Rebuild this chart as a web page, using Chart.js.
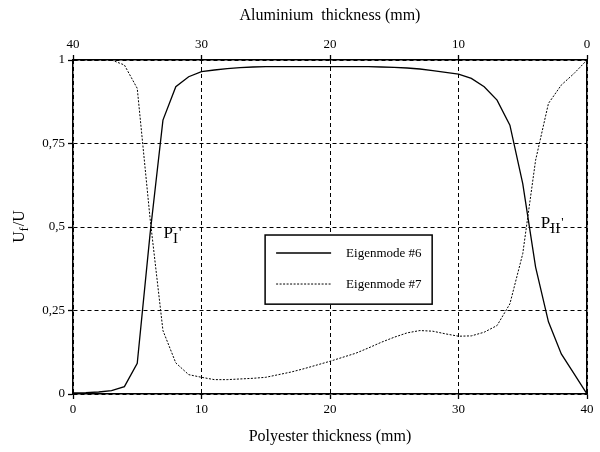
<!DOCTYPE html>
<html>
<head>
<meta charset="utf-8">
<script src="https://cdn.jsdelivr.net/npm/chart.js@4.4.1/dist/chart.umd.min.js"></script>
<style>
  html, body { margin: 0; padding: 0; background: #fff; }
  #wrap { width: 600px; height: 452px; }
</style>
</head>
<body>
<div id="wrap"><canvas id="chart" width="600" height="452"></canvas></div>
<script>
// Polyester thickness (mm), bottom axis; aluminium = 40 - polyester (top axis)
const polyester = [0,1,2,3,4,5,6,7,8,9,10,11,12,13,14,15,16,17,18,19,20,
                   21,22,23,24,25,26,27,28,29,30,31,32,33,34,35,36,37,38,39,40];

// Uf/U for each eigenmode
const mode6 = [0.003,0.004,0.006,0.010,0.022,0.092,0.48,0.82,0.92,0.95,0.965,
               0.970,0.974,0.977,0.979,0.980,0.980,0.980,0.980,0.980,0.980,
               0.980,0.980,0.980,0.979,0.978,0.976,0.973,0.968,0.963,0.958,
               0.945,0.920,0.880,0.805,0.630,0.380,0.216,0.120,0.060,0.000];
const mode7 = [1.0,1.0,1.0,1.0,0.985,0.915,0.525,0.19,0.093,0.058,0.050,
               0.043,0.043,0.045,0.047,0.050,0.058,0.066,0.076,0.087,0.098,
               0.110,0.122,0.138,0.155,0.170,0.183,0.190,0.188,0.180,0.173,
               0.174,0.185,0.205,0.270,0.420,0.700,0.870,0.925,0.960,1.000];

const seriesNames = ["Eigenmode #6", "Eigenmode #7"];
const xTicks = [0, 10, 20, 30, 40];
const yTicks = [0, 0.25, 0.5, 0.75, 1];

const SERIF = "'Liberation Serif', 'DejaVu Serif', serif";

// Legend box, axis label with subscript and the P_I' / P_II' markers
const extras = {
    id: "extras",
    afterDraw(chart) {
        const ctx = chart.ctx;
        const xs = chart.scales.x, ys = chart.scales.y;
        ctx.save();
        ctx.fillStyle = "#000";
        ctx.strokeStyle = "#000";

        // legend box
        const l = xs.getPixelForValue(14.95), r = xs.getPixelForValue(27.95);
        const t = ys.getPixelForValue(0.476), b = ys.getPixelForValue(0.269);
        ctx.fillStyle = "#fff";
        ctx.fillRect(l, t, r - l, b - t);
        ctx.lineWidth = 1.5;
        ctx.strokeRect(l, t, r - l, b - t);
        ctx.fillStyle = "#000";
        ctx.font = "13px " + SERIF;
        ctx.textBaseline = "alphabetic";
        const rows = [t + 18, t + 49];
        chart.data.datasets.forEach((ds, i) => {
            ctx.beginPath();
            ctx.lineWidth = ds.borderWidth;
            ctx.setLineDash(ds.borderDash || []);
            ctx.moveTo(l + 11, rows[i]);
            ctx.lineTo(l + 66, rows[i]);
            ctx.stroke();
            ctx.setLineDash([]);
            ctx.fillText(ds.label, l + 81, rows[i] + 4);
        });

        // crossing labels
        function mark(xv, yv, sub) {
            const px = xs.getPixelForValue(xv), py = ys.getPixelForValue(yv);
            ctx.font = "17px " + SERIF;
            ctx.fillText("P", px, py);
            const w = ctx.measureText("P").width;
            ctx.font = "15px " + SERIF;
            ctx.fillText(sub, px + w, py + 5);
            const w2 = ctx.measureText(sub).width;
            ctx.font = "13px " + SERIF;
            ctx.fillText("'", px + w + w2 + 1, py - 2);
        }
        mark(7.05, 0.468, "I");
        mark(36.4, 0.497, "II");

        // y axis title U_f/U
        ctx.translate(20, (ys.top + ys.bottom) / 2);
        ctx.rotate(-Math.PI / 2);
        ctx.font = "16px " + SERIF;
        const wU = ctx.measureText("U").width;
        ctx.font = "12px " + SERIF;
        const wf = ctx.measureText("f").width;
        ctx.font = "16px " + SERIF;
        const wS = ctx.measureText("/U").width;
        let x0 = -(wU + wf + wS) / 2;
        ctx.textBaseline = "middle";
        ctx.fillText("U", x0, 0);
        ctx.font = "12px " + SERIF;
        ctx.fillText("f", x0 + wU, 5);
        ctx.font = "16px " + SERIF;
        ctx.fillText("/U", x0 + wU + wf + 1, 0);
        ctx.restore();
    }
};

const ctx = document.getElementById("chart").getContext("2d");
new Chart(ctx, {
    type: "line",
    data: {
        datasets: [
            {
                label: seriesNames[0],
                data: polyester.map((x, i) => ({ x, y: mode6[i] })),
                borderColor: "#000",
                borderWidth: 1.3,
                pointRadius: 0,
                tension: 0,
                xAxisID: "x",
                yAxisID: "y"
            },
            {
                label: seriesNames[1],
                data: polyester.map((x, i) => ({ x, y: mode7[i] })),
                borderColor: "#000",
                borderWidth: 1,
                borderDash: [2, 1.5],
                pointRadius: 0,
                tension: 0,
                xAxisID: "x",
                yAxisID: "y"
            }
        ]
    },
    options: {
        responsive: false,
        animation: false,
        layout: { padding: 0 },
        plugins: {
            legend: { display: false },
            tooltip: { enabled: false }
        },
        scales: {
            x: {
                type: "linear",
                position: "bottom",
                min: 0, max: 40,
                afterBuildTicks: s => { s.ticks = xTicks.map(v => ({ value: v })); },
                afterFit: s => { s.height = 58; },
                ticks: { color: "#000", font: { family: SERIF, size: 13 }, padding: 3, maxRotation: 0 },
                grid: { color: "#000", lineWidth: 1, tickLength: 5, tickBorderDash: [], tickWidth: 1.3 },
                border: { display: true, color: "#000", width: 1.5, dash: [4, 3] },
                title: { display: true, text: "Polyester thickness (mm)", color: "#000",
                         font: { family: SERIF, size: 16 }, padding: { top: 0, bottom: 6 } }
            },
            x2: {
                type: "linear",
                position: "top",
                reverse: true,
                min: 0, max: 40,
                afterBuildTicks: s => { s.ticks = xTicks.map(v => ({ value: v })); },
                afterFit: s => { s.height = 60; },
                ticks: { color: "#000", font: { family: SERIF, size: 13 }, padding: 3, maxRotation: 0 },
                grid: { drawOnChartArea: false, color: "#000", tickLength: 5, tickWidth: 1.3 },
                border: { display: true, color: "#000", width: 1.5 },
                title: { display: true, text: "Aluminium  thickness (mm)", color: "#000",
                         font: { family: SERIF, size: 16 }, padding: { top: 6, bottom: 0 } }
            },
            y: {
                type: "linear",
                position: "left",
                min: 0, max: 1,
                afterBuildTicks: s => { s.ticks = yTicks.map(v => ({ value: v })); },
                afterFit: s => { s.width = 73; },
                ticks: { color: "#000", font: { family: SERIF, size: 13 }, padding: 3,
                         callback: v => String(v).replace(".", ",") },
                grid: { color: "#000", lineWidth: 1, tickLength: 5, tickBorderDash: [], tickWidth: 1.3 },
                border: { display: true, color: "#000", width: 1.5, dash: [4, 3] }
            },
            y2: {
                type: "linear",
                position: "right",
                min: 0, max: 1,
                afterFit: s => { s.width = 13; },
                ticks: { display: false },
                grid: { display: false },
                border: { display: true, color: "#000", width: 1.5 }
            }
        }
    },
    plugins: [extras]
});
</script>
</body>
</html>
